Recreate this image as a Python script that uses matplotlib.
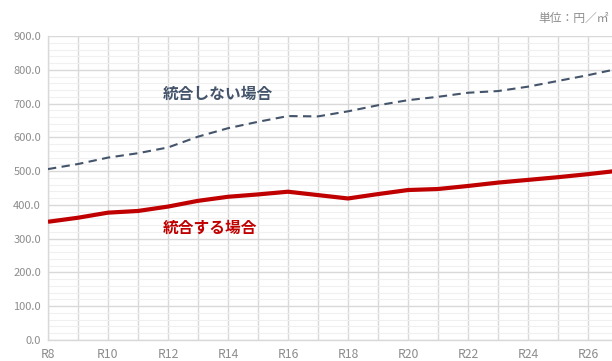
import matplotlib
matplotlib.use("Agg")
import matplotlib.pyplot as plt
import numpy as np
from matplotlib.ticker import MultipleLocator, FixedLocator, FuncFormatter

plt.rcParams['font.family'] = ['Noto Sans CJK JP', 'DejaVu Sans']

# Data
years = list(range(8, 28))
year_labels = ["R%d" % y for y in years]
no_merge = [506, 521, 540, 553, 570, 602, 627, 646, 663, 662, 677, 695,
            710, 720, 732, 737, 750, 767, 784, 803]
merge = [350, 362, 377, 382, 395, 412, 424, 431, 439, 429, 419, 432,
         444, 447, 456, 466, 474, 482, 491, 501]

fig = plt.figure(figsize=(6.12, 3.61), dpi=100)
ax = fig.add_axes([48/612, 1-340/361, 1-48/612, (340-36)/361])

ax.plot(years, no_merge, color="#44546A", lw=1.5, ls=(0, (4, 2.6)), zorder=3)
ax.plot(years, merge, color="#C00000", lw=3, zorder=3, solid_capstyle="butt")

ax.set_xlim(8, 8 + 564/30)
ax.set_ylim(0, 900)

# Gridlines
ax.yaxis.set_major_locator(MultipleLocator(100))
ax.yaxis.set_minor_locator(MultipleLocator(20))
ax.yaxis.set_major_formatter(FuncFormatter(lambda v, p: "%.1f" % v))
ax.xaxis.set_major_locator(FixedLocator(years[::2]))
ax.xaxis.set_minor_locator(FixedLocator(years))
ax.set_xticklabels(year_labels[::2])
ax.grid(which="major", axis="y", color="#D9D9D9", lw=1.0, zorder=0)
ax.grid(which="minor", axis="y", color="#F0F0F0", lw=0.8, zorder=0)
ax.grid(which="both", axis="x", color="#D9D9D9", lw=1.0, zorder=0)
ax.set_axisbelow(True)

for s in ["top", "right"]:
    ax.spines[s].set_visible(False)
for s in ["left", "bottom"]:
    ax.spines[s].set_color("#D9D9D9")
    ax.spines[s].set_linewidth(1.0)

ax.tick_params(which="both", length=0, colors="#8C8C8C")
ax.tick_params(axis="x", labelsize=8.8, pad=6)
ax.tick_params(axis="y", labelsize=8, pad=5)

# Labels
ax.text(163/612, 1-94/361, "統合しない場合", transform=fig.transFigure,
        color="#44546A", fontsize=11.3, fontweight="bold", va="center", ha="left")
ax.text(163/612, 1-228/361, "統合する場合", transform=fig.transFigure,
        color="#C00000", fontsize=11.3, fontweight="bold", va="center", ha="left")
fig.text(538/612, 1-18/361, "単位：円／㎡", color="#8C8C8C", fontsize=8.5,
         va="center", ha="left")

fig.savefig("out.png", dpi=100)
